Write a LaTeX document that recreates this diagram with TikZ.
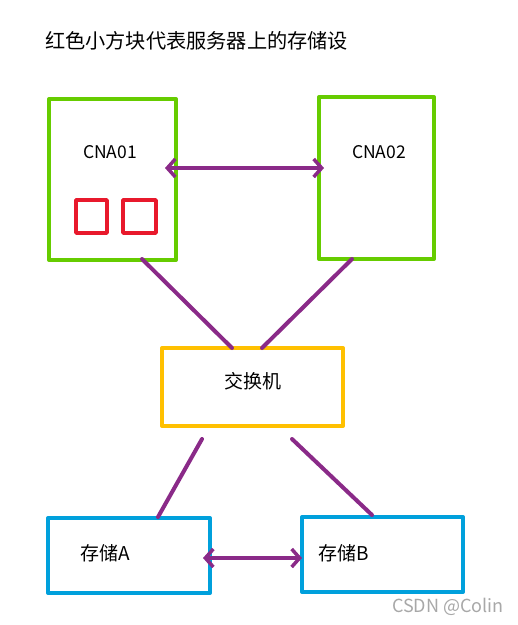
\documentclass[tikz,border=0pt]{standalone}
\usepackage{fontspec}
\setmainfont{Noto Sans CJK SC}
\usetikzlibrary{arrows.meta}
\definecolor{gbox}{HTML}{66CC00}
\definecolor{rbox}{HTML}{E8192C}
\definecolor{ybox}{HTML}{FFC000}
\definecolor{bbox}{HTML}{00A0DC}
\definecolor{purp}{HTML}{8A2A88}
\definecolor{wm}{HTML}{A8A8A8}
\tikzset{
  box/.style={draw, line width=4pt, line join=round, inner sep=0pt},
  link/.style={draw=purp, line width=4pt, line cap=round},
  dlink/.style={link, {Straight Barb[length=8pt,width=18pt,line width=3.5pt]}-{Straight Barb[length=8pt,width=18pt,line width=3.5pt]}},
  lbl/.style={font=\fontsize{17.5}{20}\selectfont, inner sep=0pt}
}
\begin{document}
\begin{tikzpicture}[x=1pt,y=-1pt]
\useasboundingbox[fill=white] (0,0) rectangle (518,625);
\node[inner sep=0pt, anchor=west, font=\fontsize{20.2}{23}\selectfont] (title) at (45,41) {红色小方块代表服务器上的存储设};
% boxes
\draw[box, gbox] (49,99) rectangle (176,260);
\draw[box, gbox] (319,97) rectangle (434,259);
\draw[box, rbox, line width=3.5pt] (76,200) rectangle (107,233);
\draw[box, rbox, line width=3.5pt] (123,200) rectangle (156,233);
\draw[box, ybox] (162,348) rectangle (343,426);
\draw[box, bbox] (48,518) rectangle (210,593);
\draw[box, bbox] (302,517) rectangle (463,592);
% labels
\node[lbl] (cna1) at (110,152) {CNA01};
\node[lbl] (cna2) at (379,152) {CNA02};
\node[lbl, font=\fontsize{19}{22}\selectfont] (sw) at (253,381) {交换机};
\node[lbl, font=\fontsize{19}{22}\selectfont] (sa) at (105,553) {存储A};
\node[lbl, font=\fontsize{19}{22}\selectfont] (sb) at (344,553) {存储B};
\node[lbl, text=wm, font=\fontsize{18}{20}\selectfont, anchor=east] (wmk) at (504,607) {CSDN @Colin};
% connector endpoints
\coordinate (a1) at (165,168);
\coordinate (a2) at (324,168);
\coordinate (c1) at (142,259);
\coordinate (s1) at (232,348);
\coordinate (c2) at (352,259);
\coordinate (s2) at (262,348);
\coordinate (s3) at (202,439);
\coordinate (d1) at (158,517);
\coordinate (s4) at (292,439);
\coordinate (d2) at (372,515);
\coordinate (b1) at (203,558);
\coordinate (b2) at (302,558);
\draw[dlink] (a1) -- (a2);
\draw[link] (c1) -- (s1);
\draw[link] (c2) -- (s2);
\draw[link] (s3) -- (d1);
\draw[link] (s4) -- (d2);
\draw[dlink] (b1) -- (b2);
\end{tikzpicture}
\end{document}
